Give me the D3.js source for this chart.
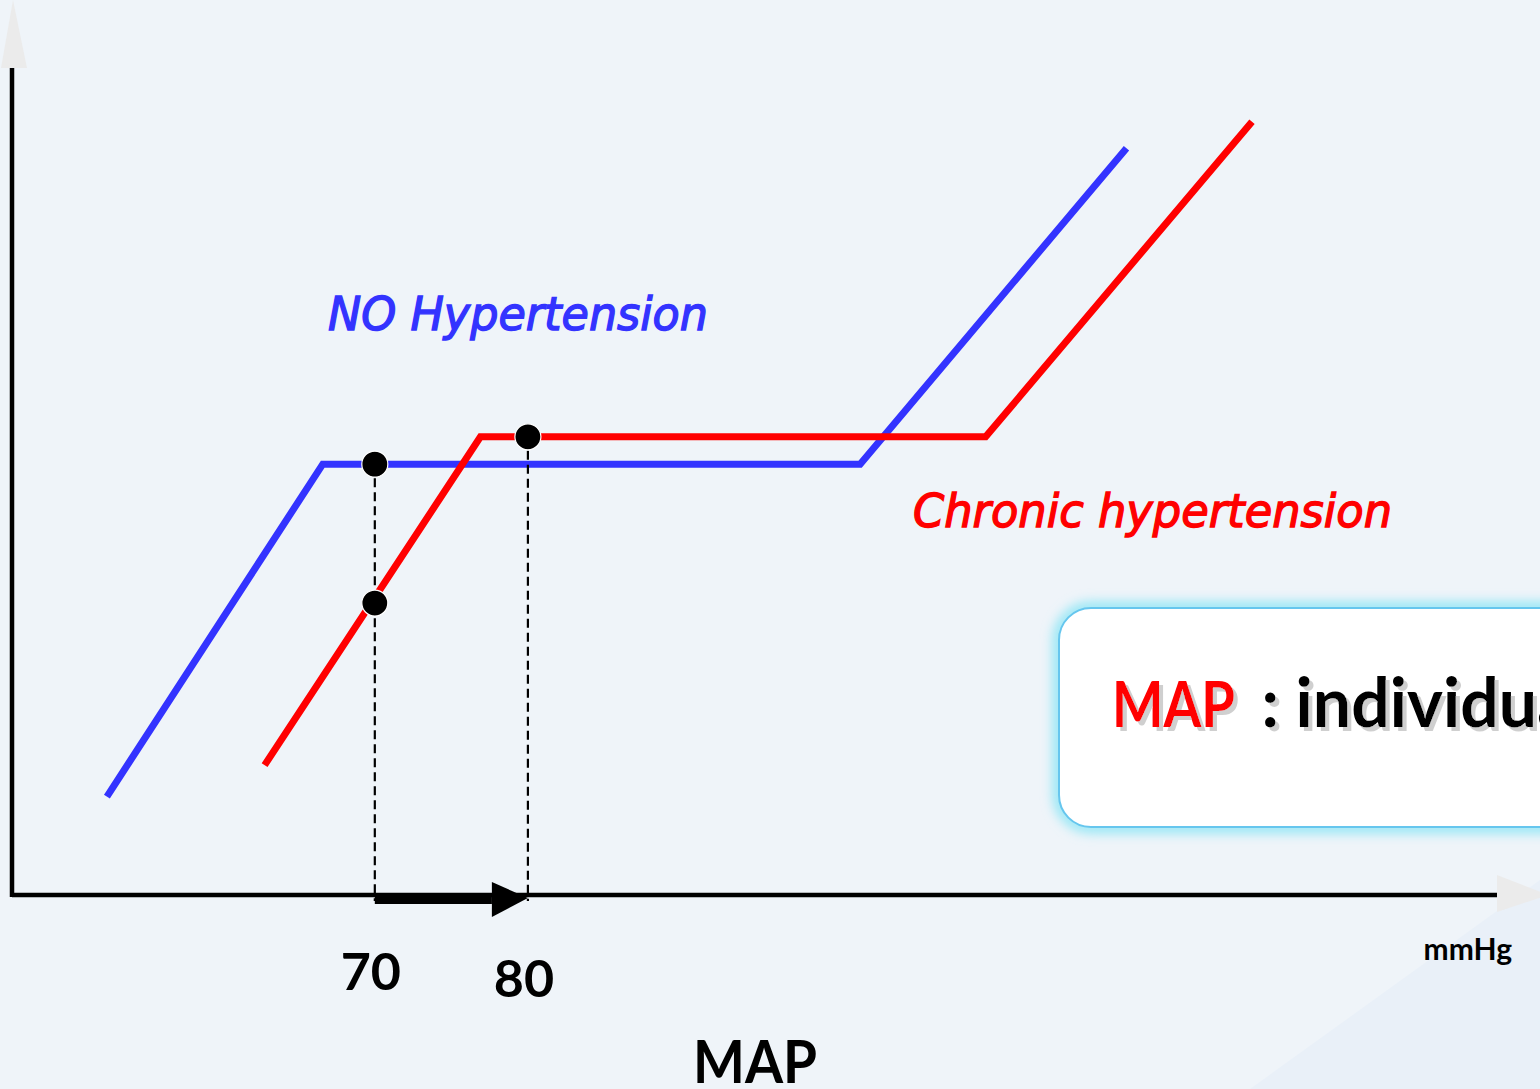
<!DOCTYPE html>
<html>
<head>
<meta charset="utf-8">
<script src="https://cdn.jsdelivr.net/npm/d3@7"></script>
<style>
  body { margin: 0; background: #eff4f9; overflow: hidden; }
  svg { display: block; }
</style>
</head>
<body>
<div id="chart"></div>
<script>
// autoregulation curves, MAP in mmHg vs flow (arbitrary units)
var noHtMmHg = [52.5, 66.6, 101.7, 119.1];
var noHtFlow = [11.9, 52.1, 52.1, 90.3];
var chronicMmHg = [62.8, 76.9, 109.9, 127.3];
var chronicFlow = [15.7, 55.4, 55.4, 93.5];
var markerMmHg = [70, 80, 70];
var markerFlow = [52.1, 55.4, 35.3];
var tickLabels = [70, 80];

var svgWidth = 1540;
var svgHeight = 1089;

var svg = d3.select("#chart")
    .append("svg")
    .attr("width", svgWidth)
    .attr("height", svgHeight);

var defs = svg.append("defs");
defs.append("filter")
    .attr("id", "glow")
    .attr("x", "-20%").attr("y", "-20%")
    .attr("width", "140%").attr("height", "140%")
    .append("feGaussianBlur")
    .attr("stdDeviation", 6);
defs.append("filter")
    .attr("id", "shadow")
    .append("feDropShadow")
    .attr("dx", 4).attr("dy", 4)
    .attr("stdDeviation", 0.6)
    .attr("flood-color", "#cfcfcf");

var x = d3.scaleLinear().domain([46.3, 143.5]).range([12, 1500]);
var y = d3.scaleLinear().domain([0, 100]).range([895, 68]);

// faint background facet at bottom right
svg.append("path")
    .attr("d", "M1250,1089 L1540,880 L1540,1089 Z")
    .attr("fill", "#e9f0f8");

// axes
svg.append("path")
    .attr("d", `M1,${y(100)} L13,0 L27,${y(100)} Z`)
    .attr("fill", "#ebebeb");
svg.append("path")
    .attr("d", `M1497,875 L1548,895 L1497,912 Z`)
    .attr("fill", "#ebebeb");
svg.append("line")
    .attr("x1", x(46.3)).attr("x2", x(46.3))
    .attr("y1", y(100)).attr("y2", y(0) + 2)
    .attr("stroke", "black").attr("stroke-width", 4.5);
svg.append("line")
    .attr("x1", x(46.3)).attr("x2", 1497)
    .attr("y1", y(0)).attr("y2", y(0))
    .attr("stroke", "black").attr("stroke-width", 4.5);

// curves
var line = d3.line()
    .x(d => x(d[0]))
    .y(d => y(d[1]));

svg.append("path")
    .datum(d3.zip(noHtMmHg, noHtFlow))
    .attr("d", line)
    .attr("fill", "none")
    .attr("stroke", "#3333ff")
    .attr("stroke-width", 7);

svg.append("path")
    .datum(d3.zip(chronicMmHg, chronicFlow))
    .attr("d", line)
    .attr("fill", "none")
    .attr("stroke", "#ff0000")
    .attr("stroke-width", 7);

// dashed drop lines
svg.selectAll(".drop")
    .data(tickLabels)
    .enter()
    .append("line")
    .attr("class", "drop")
    .attr("x1", d => x(d)).attr("x2", d => x(d))
    .attr("y1", (d, i) => y(markerFlow[i]))
    .attr("y2", y(0) + 6)
    .attr("stroke", "black")
    .attr("stroke-width", 2.2)
    .attr("stroke-dasharray", "9,5");

// shift arrow 70 -> 80
svg.append("rect")
    .attr("x", x(70)).attr("y", y(0) - 1)
    .attr("width", x(80) - 36 - x(70)).attr("height", 10)
    .attr("fill", "black");
svg.append("path")
    .attr("d", `M${x(80) - 36},882 L${x(80)},898 L${x(80) - 36},917 Z`)
    .attr("fill", "black");

// markers
svg.selectAll(".dot")
    .data(d3.zip(markerMmHg, markerFlow))
    .enter()
    .append("circle")
    .attr("class", "dot")
    .attr("cx", d => x(d[0]))
    .attr("cy", d => y(d[1]))
    .attr("r", 13)
    .attr("fill", "black")
    .attr("stroke", "white")
    .attr("stroke-width", 1.2);

// labels
svg.append("text")
    .attr("x", 328).attr("y", 330)
    .attr("font-family", "DejaVu Sans")
    .attr("font-style", "italic")
    .attr("font-size", 46)
    .attr("textLength", 380)
    .attr("lengthAdjust", "spacingAndGlyphs")
    .attr("fill", "#3333ff")
    .attr("stroke", "#3333ff")
    .attr("stroke-width", 1.4)
    .text("NO Hypertension");

svg.append("text")
    .attr("x", 913).attr("y", 527)
    .attr("font-family", "DejaVu Sans")
    .attr("font-style", "italic")
    .attr("font-size", 46)
    .attr("textLength", 479)
    .attr("lengthAdjust", "spacingAndGlyphs")
    .attr("fill", "#ff0000")
    .attr("stroke", "#ff0000")
    .attr("stroke-width", 1.4)
    .text("Chronic hypertension");

svg.selectAll(".tick-label")
    .data(tickLabels)
    .enter()
    .append("text")
    .attr("class", "tick-label")
    .attr("x", d => x(d) - 4)
    .attr("y", (d, i) => 990 + i * 7)
    .attr("text-anchor", "middle")
    .attr("font-family", "Lato")
    .attr("font-weight", 700)
    .attr("font-size", 52)
    .attr("fill", "black")
    .text(d => d);

svg.append("text")
    .attr("x", 1512).attr("y", 960)
    .attr("text-anchor", "end")
    .attr("font-family", "Lato")
    .attr("font-weight", 700)
    .attr("font-size", 30)
    .text("mmHg");

svg.append("text")
    .attr("x", 755).attr("y", 1083)
    .attr("text-anchor", "middle")
    .attr("font-family", "Lato")
    .attr("font-weight", 700)
    .attr("font-size", 60)
    .attr("textLength", 124)
    .attr("lengthAdjust", "spacingAndGlyphs")
    .text("MAP");

// definition box
svg.append("rect")
    .attr("x", 1059).attr("y", 608)
    .attr("width", 560).attr("height", 219)
    .attr("rx", 32)
    .attr("fill", "none")
    .attr("stroke", "#8fe6f5")
    .attr("stroke-width", 12)
    .attr("filter", "url(#glow)");
svg.append("rect")
    .attr("x", 1059).attr("y", 608)
    .attr("width", 560).attr("height", 219)
    .attr("rx", 32)
    .attr("fill", "white")
    .attr("stroke", "#66c6ee")
    .attr("stroke-width", 2);

var boxText = svg.append("text")
    .attr("x", 1112).attr("y", 727)
    .attr("font-family", "Lato")
    .attr("font-weight", 700)
    .attr("font-size", 64)
    .attr("filter", "url(#shadow)");
boxText.append("tspan").attr("fill", "#ff0000")
    .attr("textLength", 123).attr("lengthAdjust", "spacingAndGlyphs")
    .text("MAP");
boxText.append("tspan").attr("fill", "black").attr("dx", 10)
    .attr("font-size", 68)
    .text(" :  individual");
</script>
</body>
</html>
